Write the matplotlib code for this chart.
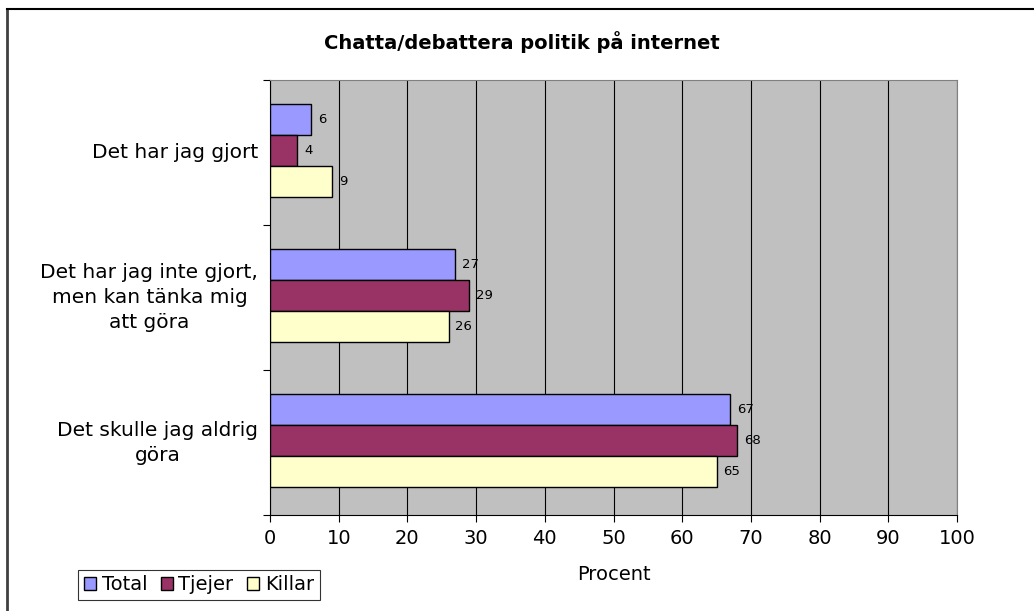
import numpy as np
from matplotlib import pyplot as plt
from matplotlib.patches import Patch

# data
categories = ["Det har jag gjort",
              "Det har jag inte gjort,\nmen kan tänka mig\natt göra",
              "Det skulle jag aldrig\ngöra"]
series = ["Total", "Tjejer", "Killar"]
total = [6, 27, 67]
tjejer = [4, 29, 68]
killar = [9, 26, 65]
colors = ["#9999FF", "#993366", "#FFFFCC"]

fig = plt.figure(figsize=(10.34, 6.11), dpi=100)
ax = fig.add_axes([270 / 1034, 1 - 515 / 611, 687 / 1034, 435 / 611])
ax.set_facecolor("#C0C0C0")

# kategorier uppifran und ned
y = np.arange(len(categories))
h = 31 / 145
for i, (vals, c) in enumerate(zip([total, tjejer, killar], colors)):
    pos = y + (i - 1) * h - 0.012
    ax.barh(pos, vals, height=h, color=c, edgecolor="black", linewidth=1, zorder=3)
    for p, v in zip(pos, vals):
        ax.text(v + 1.0, p, str(v), va="center", ha="left", fontsize=9.5, zorder=4)

ax.set_xlim(0, 100)
ax.set_ylim(len(categories) - 0.5, -0.5)
ax.set_xticks(range(0, 101, 10))
ax.xaxis.grid(True, color="black", linewidth=0.8, zorder=1)
ax.set_axisbelow(True)

# tick-uri la marginile categoriilor
ax.set_yticks(np.arange(-0.5, len(categories), 1.0))
ax.set_yticklabels([])
ax.tick_params(axis="y", length=5, width=0.8)
ax.tick_params(axis="x", length=5, width=0.8, labelsize=14, pad=5)
for k, cat in enumerate(categories):
    ax.text(-1.7, k, cat, ha="right", va="center", fontsize=14.5,
            linespacing=1.4, multialignment="center", transform=ax.transData)

for s in ["top", "right"]:
    ax.spines[s].set_color("#808080")
for s in ["left", "bottom"]:
    ax.spines[s].set_color("black")

ax.set_xlabel("Procent", fontsize=14, labelpad=12)
fig.text(522 / 1034, 1 - 42 / 611, "Chatta/debattera politik på internet",
         ha="center", va="center", fontsize=14, fontweight="bold")

handles = [Patch(facecolor=c, edgecolor="black", label=s) for s, c in zip(series, colors)]
leg = fig.legend(handles=handles, loc="center", bbox_to_anchor=(199 / 1034, 1 - 585 / 611),
                 ncol=3, fontsize=14, frameon=True, fancybox=False, handlelength=0.6,
                 handleheight=0.6, handletextpad=0.3, columnspacing=0.7,
                 borderpad=0.3, borderaxespad=0.3, edgecolor="black")
leg.get_frame().set_linewidth(0.8)

# chenar exterior (doar stanga si sus vizibile)
fig.add_artist(plt.Line2D([7 / 1034, 7 / 1034], [0, 1 - 9 / 611], color="#404040", linewidth=2))
fig.add_artist(plt.Line2D([7 / 1034, 1], [1 - 9 / 611, 1 - 9 / 611], color="black", linewidth=1.5))

fig.savefig("out.png", dpi=100)
